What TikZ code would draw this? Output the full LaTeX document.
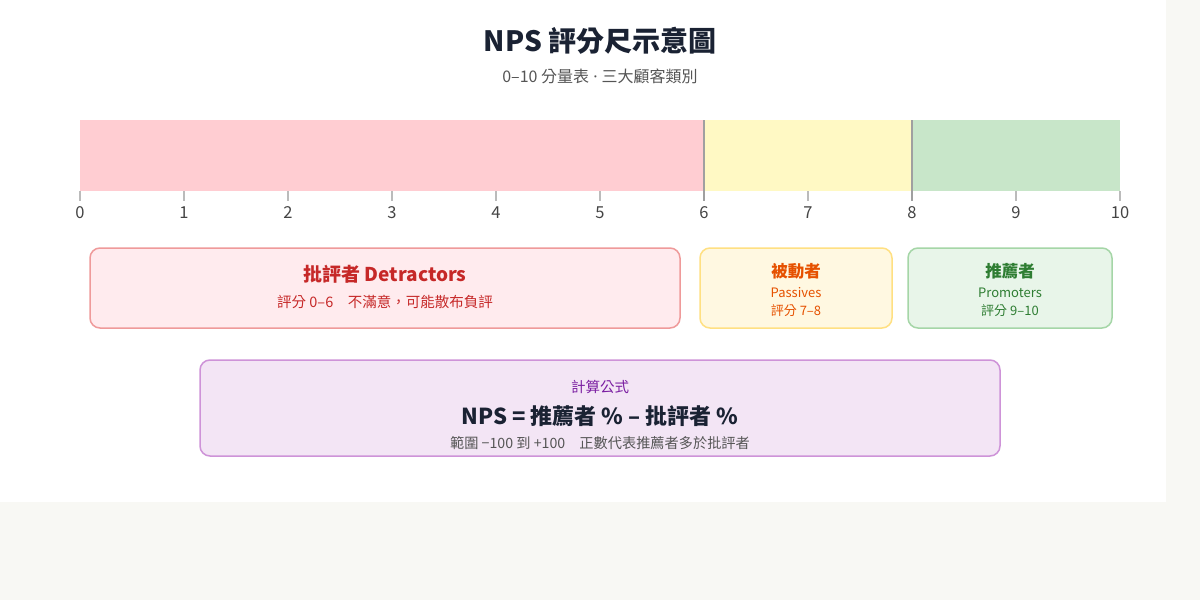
\documentclass[tikz,border=0pt]{standalone}
\usepackage{fontspec}
\setmainfont{Noto Sans CJK TC}
\newfontfamily\latinf{Noto Sans}
\definecolor{pagebg}{HTML}{F8F8F4}
\definecolor{titlec}{HTML}{1A2233}
\definecolor{subc}{HTML}{555555}
\definecolor{redbar}{HTML}{FFCDD2}
\definecolor{yelbar}{HTML}{FFF9C4}
\definecolor{grnbar}{HTML}{C8E6C9}
\definecolor{tickc}{HTML}{BBBBBB}
\definecolor{sepc}{HTML}{A0A0A0}
\definecolor{numc}{HTML}{444444}
\definecolor{redfill}{HTML}{FFEBEE}
\definecolor{redline}{HTML}{EF9A9A}
\definecolor{redtext}{HTML}{C62828}
\definecolor{yelfill}{HTML}{FFF8E1}
\definecolor{yelline}{HTML}{FFE082}
\definecolor{yeltext}{HTML}{E65100}
\definecolor{grnfill}{HTML}{E8F5E9}
\definecolor{grnline}{HTML}{A5D6A7}
\definecolor{grntext}{HTML}{2E7D32}
\definecolor{purfill}{HTML}{F3E5F5}
\definecolor{purline}{HTML}{CE93D8}
\definecolor{purtext}{HTML}{7B1FA2}
\begin{document}
\begin{tikzpicture}[x=1pt,y=-1pt,
  catbox/.style={line width=1.5pt, rounded corners=10pt},
  ticktext/.style={text=numc, font=\fontsize{16.5}{18}\selectfont, inner sep=0pt},
  lbl/.style={inner sep=0pt, anchor=center}]
\useasboundingbox (0,0) rectangle (1200,600);
\fill[pagebg] (0,0) rectangle (1200,600);
\fill[white] (0,0) rectangle (1166,502);
% title
\node[lbl, text=titlec, font=\fontsize{28}{32}\selectfont\bfseries] (title) at (600,41) {NPS 評分尺示意圖};
\node[lbl, text=subc, font=\fontsize{16}{19}\selectfont] (subtitle) at (600,76) {0–10 分量表{\latinf\ ·\ }三大顧客類別};
% bar
\fill[redbar] (80,120) rectangle (704,191);
\fill[yelbar] (704,120) rectangle (912,191);
\fill[grnbar] (912,120) rectangle (1120,191);
\foreach \i in {0,...,10}{
  \draw[tickc, line width=2pt] ({80+104*\i},191) -- ({80+104*\i},201);
  \node[ticktext] (t\i) at ({80+104*\i},213) {\i};
}
\draw[sepc, line width=2pt] (704,120) -- (704,201);
\draw[sepc, line width=2pt] (912,120) -- (912,201);
% detractors
\draw[catbox, fill=redfill, draw=redline] (90,248) rectangle (680,328);
\node[lbl, text=redtext, font=\fontsize{19}{22}\selectfont\bfseries] (dt) at (385,274) {批評者 Detractors};
\node[lbl, text=redtext, font=\fontsize{14.5}{17}\selectfont] (ds) at (385,302) {評分 0–6　不滿意，可能散布負評};
% passives
\draw[catbox, fill=yelfill, draw=yelline] (700,248) rectangle (892,328);
\node[lbl, text=yeltext, font=\fontsize{16.5}{19}\selectfont\bfseries] (pt) at (796,271) {被動者};
\node[lbl, text=yeltext, font=\fontsize{13}{15}\selectfont] (pe) at (796,293) {Passives};
\node[lbl, text=yeltext, font=\fontsize{13}{15}\selectfont] (ps) at (796,311) {評分 7–8};
% promoters
\draw[catbox, fill=grnfill, draw=grnline] (908,248) rectangle (1112,328);
\node[lbl, text=grntext, font=\fontsize{16.5}{19}\selectfont\bfseries] (rt) at (1010,271) {推薦者};
\node[lbl, text=grntext, font=\fontsize{13}{15}\selectfont] (re) at (1010,293) {Promoters};
\node[lbl, text=grntext, font=\fontsize{13}{15}\selectfont] (rs) at (1010,311) {評分 9–10};
% formula
\draw[catbox, fill=purfill, draw=purline] (200,360) rectangle (1000,456);
\node[lbl, text=purtext, font=\fontsize{14.5}{17}\selectfont] (fh) at (600,387) {計算公式};
\node[lbl, text=titlec, font=\fontsize{22}{26}\selectfont\bfseries] (ff) at (600,416) {NPS = 推薦者 \% – 批評者 \%};
\node[lbl, text=subc, font=\fontsize{14.2}{17}\selectfont] (fr) at (600,443) {範圍 {\char"2212}100 到 +100　正數代表推薦者多於批評者};
\end{tikzpicture}
\end{document}
